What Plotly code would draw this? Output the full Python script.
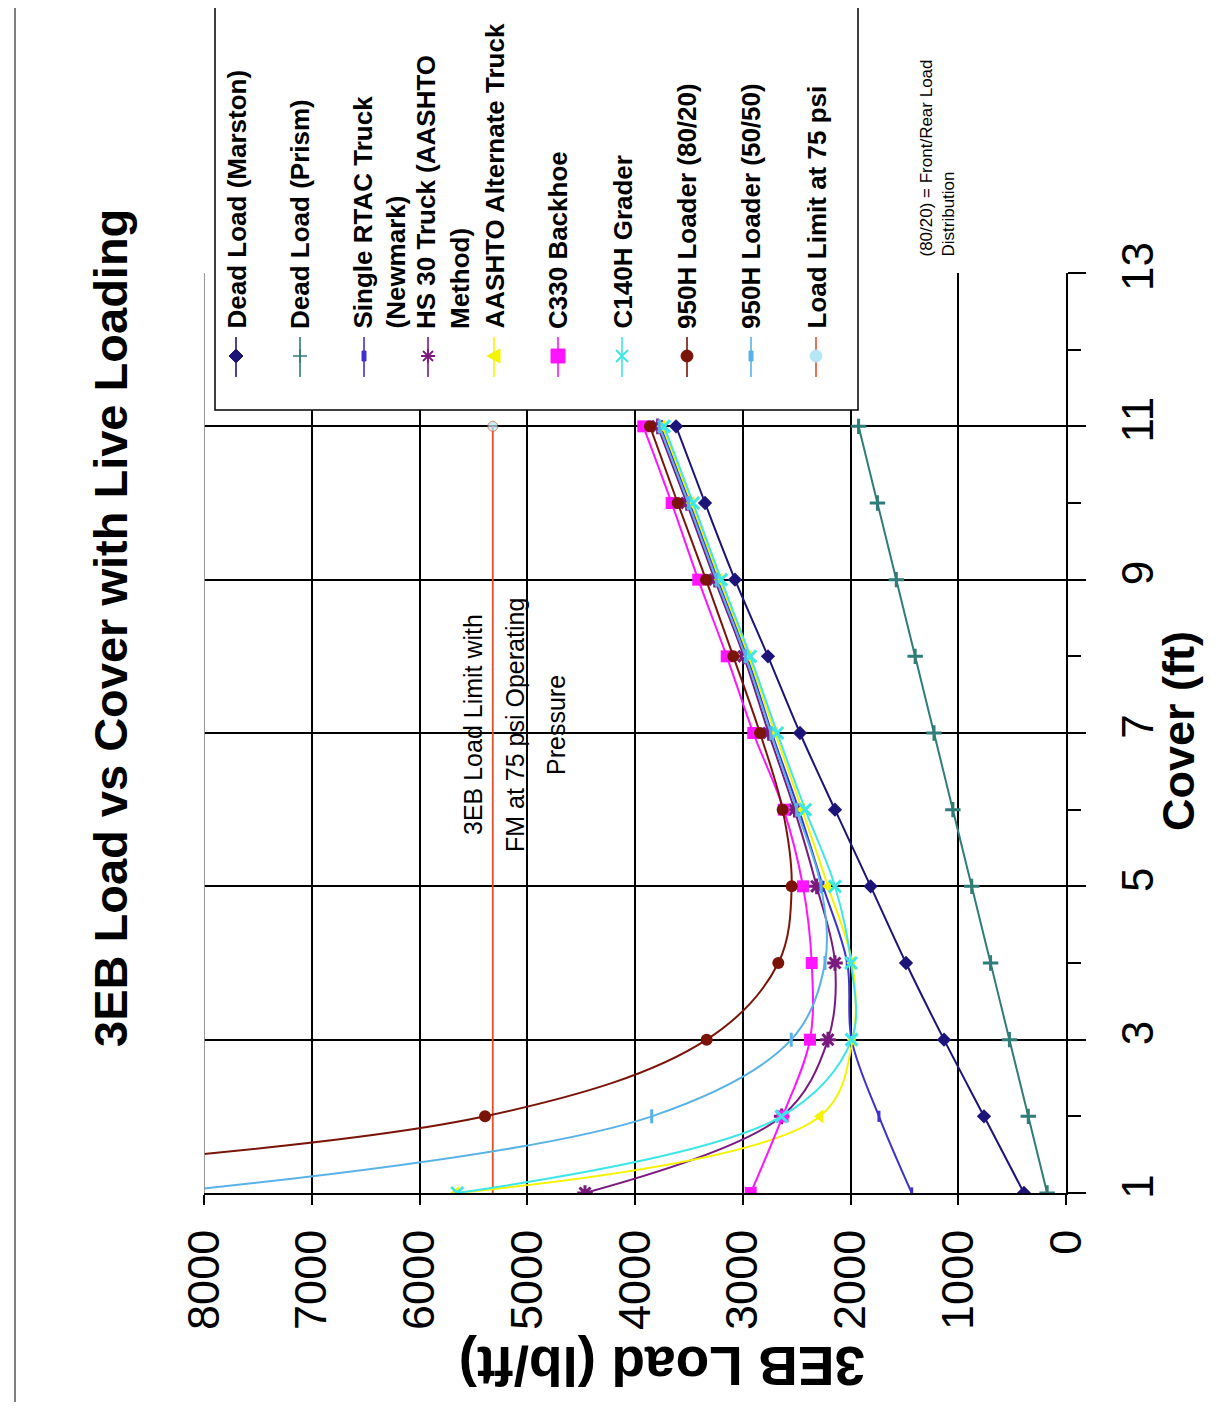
import plotly.graph_objects as go

# ---------------- data ----------------
cover = [1, 2, 3, 4, 5, 6, 7, 8, 9, 10, 11]
dead_marston = [390, 761, 1132, 1485, 1813, 2144, 2469, 2766, 3072, 3350, 3619]
dead_prism = [175, 350, 525, 700, 875, 1050, 1225, 1400, 1575, 1750, 1925]
rtac_newmark = [1432, 1736, 1990, 2030, 2255, 2480, 2730, 2960, 3230, 3490, 3760]
hs30_aashto = [4464, 2639, 2209, 2144, 2314, 2520, 2760, 2990, 3260, 3520, 3790]
aashto_alt = [5660, 2283, 1980, 1985, 2209, 2450, 2700, 2945, 3215, 3475, 3745]
c330_backhoe = [2926, 2630, 2376, 2360, 2441, 2620, 2902, 3149, 3413, 3660, 3923]
c140h_grader = [5650, 2640, 1990, 1995, 2144, 2420, 2680, 2930, 3200, 3460, 3730]
loader_80_20 = [13000, 5392, 3335, 2670, 2546, 2630, 2840, 3088, 3341, 3604, 3861]
loader_50_50 = [8400, 3845, 2550, 2237, 2274, 2500, 2740, 2975, 3245, 3505, 3775]
limit_cover = [1, 11]
limit_75psi = [5320, 5320]

load_ticks = [0, 1000, 2000, 3000, 4000, 5000, 6000, 7000, 8000]
cover_ticks = [1, 3, 5, 7, 9, 11, 13]
cover_minor = [2, 4, 6, 8, 10, 12]

title_text = "3EB Load vs Cover with Live Loading"
load_title = "3EB Load (lb/ft)"
cover_title = "Cover (ft)"
limit_note = ["3EB Load Limit with", "FM at 75 psi Operating", "Pressure"]
dist_note = "(80/20) = Front/Rear Load<br>Distribution"

# ---------------- styling ----------------
FONT = "Liberation Sans, Arial, sans-serif"
OFF = 8                      # page body margin of the html page
W, H = 1220 - 2 * OFF, 1410 - 2 * OFF
# plot-area box in screenshot pixels
IPL, IPR, IPT, IPB = 204, 1066, 273, 1193
PL, PR, PT, PB = IPL - OFF, IPR - OFF, IPT - OFF, IPB - OFF


def px(xi):
    return (xi - IPL) / (IPR - IPL)


def py(yi):
    return (IPB - yi) / (IPB - IPT)


series = [
    # name, values, color, symbol, size, legend marker kind
    ("Dead Load (Marston)", dead_marston, "#1c1478", "diamond", 11, "diamond"),
    ("Dead Load (Prism)", dead_prism, "#2f7c78", "cross-thin-open", 11, "cross"),
    ("Single RTAC Truck<br>(Newmark)", rtac_newmark, "#3c32d2", "line-ns-open", 8, "dash"),
    ("HS 30 Truck (AASHTO<br>Method)", hs30_aashto, "#7a1a7e", "asterisk-open", 13, "asterisk"),
    ("AASHTO Alternate Truck", aashto_alt, "#f4f400", "triangle-left", 12, "triangle"),
    ("C330 Backhoe", c330_backhoe, "#ff14ff", "square", 12, "square"),
    ("C140H Grader", c140h_grader, "#3ee6e6", "x-thin-open", 12, "x"),
    ("950H Loader (80/20)", loader_80_20, "#7a1408", "circle", 12, "circle"),
    ("950H Loader (50/50)", loader_50_50, "#58b2e8", "line-ns-open", 10, "dash"),
]
LIMIT_COL = "#e0502a"
LIMIT_MARK = "#b4e6f6"

fig = go.Figure()

fig.add_trace(go.Scatter(
    x=limit_75psi, y=limit_cover, mode="lines+markers",
    line=dict(color=LIMIT_COL, width=1.8),
    marker=dict(size=[0, 10], color=LIMIT_MARK, symbol="circle"),
    showlegend=False, hoverinfo="skip"))

for name, vals, col, sym, size, _ in series:
    fig.add_trace(go.Scatter(
        x=vals, y=cover, mode="lines+markers",
        line=dict(color=col, width=2, shape="spline", smoothing=1.0),
        marker=dict(symbol=sym, size=size, color=col,
                    line=dict(color=col, width=3 if "open" in sym else 0)),
        name=name, showlegend=False, hoverinfo="skip"))

fig.update_layout(
    width=W, height=H,
    margin=dict(l=PL, r=W - PR, t=PT, b=H - PB, pad=0),
    paper_bgcolor="white", plot_bgcolor="white",
    font=dict(family=FONT, color="black"),
    showlegend=False,
)

fig.update_xaxes(
    range=[8000, 0], tickvals=load_ticks, ticktext=[str(v) for v in load_ticks],
    tickangle=-90, tickfont=dict(size=45, family=FONT),
    ticks="outside", ticklen=10, tickcolor="black", tickwidth=1.5,
    ticklabelstandoff=7,
    showgrid=True, gridcolor="black", gridwidth=1.6,
    showline=True, linecolor="black", linewidth=1.6, zeroline=False,
)
fig.update_yaxes(
    range=[1, 13], side="right", tickvals=cover_ticks,
    ticktext=[str(v) for v in cover_ticks],
    tickangle=-90, tickfont=dict(size=44, family=FONT),
    ticks="outside", ticklen=18, tickcolor="black", tickwidth=1.5,
    ticklabelstandoff=14,
    minor=dict(tickvals=cover_minor, ticks="outside", ticklen=13,
               tickcolor="black", tickwidth=1.5, showgrid=False),
    showgrid=True, gridcolor="black", gridwidth=1.6,
    showline=True, linecolor="black", linewidth=1.6, zeroline=False,
)

shapes = []
# grey plot-area border at the 8000 edge
shapes.append(dict(type="line", xref="x", yref="y", x0=8000, x1=8000, y0=1, y1=13,
                   line=dict(color="#8c8c8c", width=1.8), layer="above"))
# page border on the left
shapes.append(dict(type="line", xref="paper", yref="paper", x0=px(15), x1=px(15),
                   y0=py(0), y1=py(1410), line=dict(color="#555", width=1.5), layer="above"))
# legend box
shapes.append(dict(type="rect", xref="paper", yref="paper",
                   x0=px(215), x1=px(858), y0=py(410), y1=py(5),
                   fillcolor="white", line=dict(color="black", width=1.5), layer="above"))

annotations = []
leg_x = [236, 300, 364, 428, 494, 558, 622, 687, 751, 816]
leg_entries = [(s[0], s[2], s[5]) for s in series] + [("Load Limit at 75 psi", LIMIT_COL, "limit")]


def marker_shapes(kind, col, xc, yc):
    base = dict(xref="paper", yref="paper", xsizemode="pixel", ysizemode="pixel",
                xanchor=px(xc), yanchor=py(yc), layer="above")
    if kind == "diamond":
        return [dict(type="path", path="M0,-7 L7,0 L0,7 L-7,0 Z", fillcolor=col,
                     line=dict(color=col, width=1), **base)]
    if kind == "cross":
        return [dict(type="path", path="M-7,0 L7,0 M0,-7 L0,7",
                     line=dict(color=col, width=1.5), **base)]
    if kind == "dash":
        return [dict(type="path", path="M-2,-5 L2,-5 L2,5 L-2,5 Z", fillcolor=col,
                     line=dict(color=col, width=1), **base)]
    if kind == "asterisk":
        return [dict(type="path", path="M-7,0 L7,0 M-5,-5 L5,5 M-5,5 L5,-5 M0,-7 L0,7",
                     line=dict(color=col, width=1.8), **base)]
    if kind == "triangle":
        return [dict(type="path", path="M-7,0 L6,-7 L6,7 Z", fillcolor=col,
                     line=dict(color=col, width=1), **base)]
    if kind == "square":
        return [dict(type="path", path="M-7,-7 L7,-7 L7,7 L-7,7 Z", fillcolor=col,
                     line=dict(color=col, width=1), **base)]
    if kind == "x":
        return [dict(type="path", path="M-6,-6 L6,6 M-6,6 L6,-6",
                     line=dict(color=col, width=2), **base)]
    if kind == "circle":
        return [dict(type="circle", x0=-6, x1=6, y0=-6, y1=6, fillcolor=col,
                     line=dict(color=col, width=1), **base)]
    return [dict(type="circle", x0=-6, x1=6, y0=-6, y1=6, fillcolor=LIMIT_MARK,
                 line=dict(color=LIMIT_MARK, width=1), **base)]


for (label, col, kind), xc in zip(leg_entries, leg_x):
    shapes.append(dict(type="line", xref="paper", yref="paper", x0=px(xc), x1=px(xc),
                       y0=py(337), y1=py(377), line=dict(color=col, width=1.6),
                       layer="above"))
    shapes += marker_shapes(kind, col, xc, 356)
    two = "<br>" in label
    annotations.append(dict(
        text=label, xref="paper", yref="paper",
        x=px(xc + (15 if two else 0)), y=py(331),
        xanchor="center", yanchor="bottom", align="left", textangle=-90,
        showarrow=False, font=dict(size=26, family=FONT, color="black", weight="bold")))

annotations += [
    dict(text=title_text, xref="paper", yref="paper", x=px(110), y=py(628),
         xanchor="center", yanchor="middle", textangle=-90, showarrow=False,
         font=dict(size=47, family=FONT, color="black", weight="bold")),
    dict(text=cover_title, xref="paper", yref="paper", x=px(1178), y=py(731),
         xanchor="center", yanchor="middle", textangle=-90, showarrow=False,
         font=dict(size=45, family=FONT, color="black", weight="bold")),
    dict(text=load_title, xref="paper", yref="paper", x=px(662), y=py(1366),
         xanchor="center", yanchor="middle", textangle=180, showarrow=False,
         font=dict(size=55, family=FONT, color="black", weight="bold")),
    dict(text=dist_note, xref="paper", yref="paper", x=px(937), y=py(259),
         xanchor="center", yanchor="bottom", textangle=-90, align="left",
         showarrow=False, font=dict(size=17, family=FONT, color="black")),
]
for line_text, xi in zip(limit_note, [473, 515, 556]):
    annotations.append(dict(
        text=line_text, xref="paper", yref="paper", x=px(xi), y=py(725),
        xanchor="center", yanchor="middle", textangle=-90, showarrow=False,
        font=dict(size=25, family=FONT, color="black")))

fig.update_layout(shapes=shapes, annotations=annotations)
fig.write_html("out.html")
